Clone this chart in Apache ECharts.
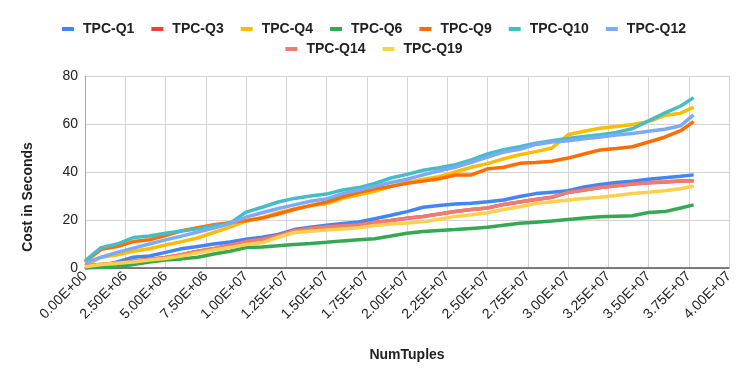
<!DOCTYPE html>
<html>
<head>
<meta charset="utf-8">
<script src="https://cdn.jsdelivr.net/npm/echarts@6/dist/echarts.min.js"></script>
<style>
  html, body { margin: 0; padding: 0; background: #fff; }
  #main { width: 748px; height: 383px; }
</style>
</head>
<body>
<div id="main"></div>
<script>
// x positions (number of tuples)
var numTuples = [0, 1000000, 2000000, 3000000, 4000000, 5000000, 6000000, 7000000, 8000000, 9000000,
  10000000, 11000000, 12000000, 13000000, 14000000, 15000000, 16000000, 17000000, 18000000, 19000000,
  20000000, 21000000, 22000000, 23000000, 24000000, 25000000, 26000000, 27000000, 28000000, 29000000,
  30000000, 31000000, 32000000, 33000000, 34000000, 35000000, 36000000, 37000000, 37800000];

// cost in seconds per query
var q1  = [0, 1, 2.5, 4.5, 5, 6.5, 8, 9, 10, 10.8, 12, 12.8, 14, 16, 17, 17.8, 18.5, 19.2, 20.5, 22, 23.5, 25.3, 26, 26.7, 27, 27.6, 28.3, 29.8, 31, 31.6, 32.2, 33.8, 34.8, 35.6, 36.2, 37, 37.6, 38.2, 38.8];
var q3  = [1, 1.5, 2, 2.8, 3.5, 4.4, 5.5, 7, 8, 9.5, 11, 12, 13.5, 15.5, 16.5, 17.2, 17.6, 18, 19, 19.8, 20.7, 21.5, 22.5, 23.5, 24.4, 25, 26.5, 27.5, 28.5, 29.5, 31.5, 32.5, 33.5, 34.3, 35, 35.5, 35.8, 36.2, 36.4];
var q4  = [1, 4.5, 5.5, 7, 8, 9.6, 11, 12.5, 14.8, 17, 19.5, 21, 23, 24.5, 26, 26.8, 29, 30.5, 32, 34, 35.5, 37, 38, 40, 42, 43.5, 45.5, 47.2, 48.5, 50, 55.5, 57, 58.2, 59, 59.8, 61, 63.5, 64.5, 67];
var q6  = [0, 0.2, 0.5, 1.5, 2.5, 3.3, 3.8, 4.5, 5.8, 7, 8.5, 8.8, 9.3, 9.8, 10.2, 10.7, 11.3, 11.8, 12.2, 13.3, 14.5, 15.2, 15.6, 16, 16.5, 17, 17.8, 18.6, 19.1, 19.6, 20.2, 20.8, 21.4, 21.6, 21.8, 23.1, 23.5, 25, 26.3];
var q9  = [2.5, 7.8, 8.9, 11, 11.8, 13.5, 15.5, 16.8, 18, 18.9, 19.8, 20.8, 22.5, 24.5, 26, 27.5, 29.7, 31.5, 33, 34, 35.3, 36.2, 37.2, 38.7, 38.8, 41.3, 42, 43.6, 44, 44.5, 45.8, 47.5, 49.2, 49.8, 50.5, 52.5, 54.5, 57.2, 61];
var q10 = [3, 8.5, 10, 12.7, 13.3, 14.5, 15.4, 16.3, 17.5, 18.6, 23.3, 25.3, 27.5, 29, 30, 30.8, 32.5, 33.5, 35.2, 37.5, 39, 40.7, 41.8, 43, 45, 47.5, 49.3, 50.5, 52, 53, 54, 54.8, 55.5, 56.5, 58, 61.3, 64.5, 67.5, 71];
var q12 = [2, 4.5, 6.5, 8.3, 10, 11.7, 13.3, 15, 16.6, 18.5, 21.2, 23, 24.8, 26.3, 27.8, 28.8, 31, 32.5, 34, 35.6, 37, 38.8, 40.5, 42, 44, 46.2, 48.3, 49.5, 51.5, 52.5, 53, 53.8, 54.6, 55.4, 56, 57, 57.8, 59.3, 63.8];
var q14 = [1, 1.5, 2, 2.8, 3.5, 4.4, 5.5, 7, 8, 9.5, 11, 12, 13.5, 15.5, 16.5, 17.2, 17.6, 18, 19, 19.8, 20.7, 21.5, 22.5, 23.5, 24.4, 25, 26.5, 27.5, 28.5, 29.5, 31.5, 32.5, 33.5, 34.3, 35, 35.5, 35.8, 36.2, 36.4];
var q19 = [0.5, 1.5, 2, 2.5, 3.3, 4, 5, 6.3, 7.5, 8.5, 9.8, 10.5, 12.8, 14.8, 15.3, 15.8, 16.2, 16.8, 17.7, 18.3, 18.8, 19.3, 20.3, 21.5, 22.2, 23, 24.4, 25.5, 26.9, 27.6, 28.3, 29, 29.5, 30.2, 31, 31.6, 32.2, 33, 34.2];

var seriesNames = ['TPC-Q1', 'TPC-Q3', 'TPC-Q4', 'TPC-Q6', 'TPC-Q9', 'TPC-Q10', 'TPC-Q12', 'TPC-Q14', 'TPC-Q19'];
var seriesValues = [q1, q3, q4, q6, q9, q10, q12, q14, q19];
var colors = ['#4285f4', '#ea4335', '#fbbc04', '#34a853', '#ff6d01', '#46bdc6', '#7baaf7', '#f07b72', '#fcd04f'];

// 2500000 -> 2.50E+06
function sci(v) {
    if (v === 0) return '0.00E+00';
    var e = Math.floor(Math.log10(v));
    var m = v / Math.pow(10, e);
    return m.toFixed(2) + 'E+' + (e < 10 ? '0' + e : e);
}

var series = [];
for (var i = 0; i < seriesNames.length; i++) {
    var pts = [];
    for (var j = 0; j < numTuples.length; j++) {
        pts.push([numTuples[j], seriesValues[i][j]]);
    }
    series.push({
        name: seriesNames[i],
        type: 'line',
        data: pts,
        showSymbol: false,
        symbol: 'none',
        lineStyle: { width: 3.5 },
        emphasis: { disabled: true }
    });
}

var legendText = { fontFamily: 'Arial', fontWeight: 'bold', fontSize: 14, color: '#222', padding: [0, 0, 0, 4] };

var myChart = echarts.init(document.getElementById('main'));
var option = {
    animation: false,
    backgroundColor: '#fff',
    color: colors,
    legend: [
        {
            data: seriesNames.slice(0, 7),
            top: 17,
            left: 'center',
            itemWidth: 12,
            itemHeight: 4,
            itemGap: 17,
            icon: 'rect',
            textStyle: legendText
        },
        {
            data: seriesNames.slice(7),
            top: 37,
            left: 'center',
            itemWidth: 12,
            itemHeight: 4,
            itemGap: 17,
            icon: 'rect',
            textStyle: legendText
        }
    ],
    grid: {
        left: 85,
        right: 19,
        top: 76,
        bottom: 115
    },
    xAxis: {
        type: 'value',
        min: 0,
        max: 40000000,
        interval: 2500000,
        name: 'NumTuples',
        nameLocation: 'middle',
        nameGap: 80,
        nameTextStyle: { fontFamily: 'Arial', fontWeight: 'bold', fontSize: 14, color: '#222' },
        axisLine: { lineStyle: { color: '#555', width: 1.5 } },
        axisTick: { show: false },
        splitLine: { show: true, lineStyle: { color: '#d4d4d4', width: 1 } },
        axisLabel: {
            rotate: 45,
            margin: 6,
            fontFamily: 'Arial',
            fontSize: 14,
            color: '#222',
            formatter: sci
        }
    },
    yAxis: {
        type: 'value',
        min: 0,
        max: 80,
        interval: 20,
        axisLine: { show: true, lineStyle: { color: '#aaa', width: 1 } },
        axisTick: { show: false },
        splitLine: { lineStyle: { color: '#d4d4d4', width: 1 } },
        axisLabel: {
            margin: 7,
            fontFamily: 'Arial',
            fontSize: 14,
            color: '#222'
        }
    },
    graphic: [
        {
            type: 'text',
            x: 28,
            y: 197,
            rotation: Math.PI / 2,
            style: {
                text: 'Cost in Seconds',
                font: 'bold 14px Arial',
                fill: '#222',
                textAlign: 'center',
                textVerticalAlign: 'middle'
            }
        }
    ],
    series: series
};
myChart.setOption(option);
</script>
</body>
</html>
